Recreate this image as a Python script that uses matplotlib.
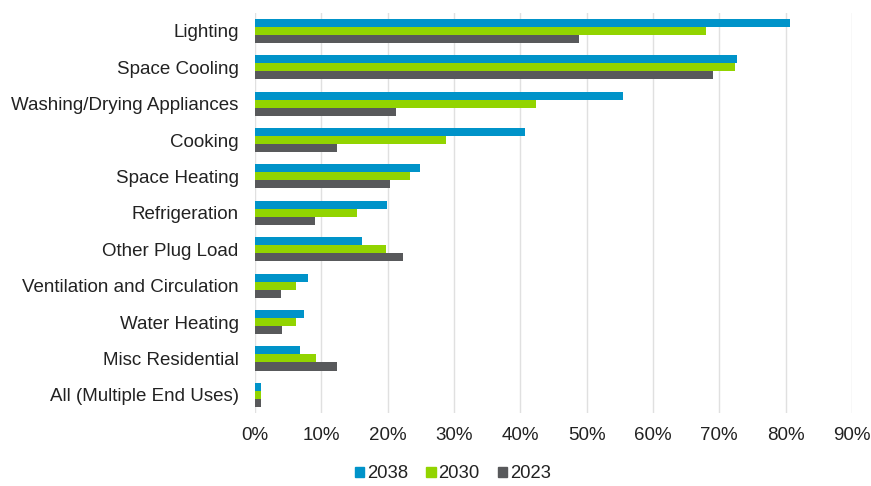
import numpy as np
import matplotlib.pyplot as plt
from matplotlib.ticker import PercentFormatter
from matplotlib.patches import Patch

plt.rcParams['font.family'] = ['Liberation Sans', 'DejaVu Sans']

categories = ['Lighting', 'Space Cooling', 'Washing/Drying Appliances', 'Cooking',
              'Space Heating', 'Refrigeration', 'Other Plug Load',
              'Ventilation and Circulation', 'Water Heating', 'Misc Residential',
              'All (Multiple End Uses)']
v2038 = [80.6, 72.7, 55.5, 40.7, 24.9, 19.9, 16.1, 7.9, 7.3, 6.7, 0.8]
v2030 = [68.0, 72.4, 42.3, 28.8, 23.4, 15.3, 19.7, 6.2, 6.2, 9.2, 0.8]
v2023 = [48.8, 69.1, 21.2, 12.3, 20.4, 9.0, 22.3, 3.9, 4.1, 12.4, 0.8]
years = ['2038', '2030', '2023']
colors = ['#0093c9', '#92d400', '#58595b']

fig = plt.figure(figsize=(8.71, 4.86), dpi=100)
ax = fig.add_axes([0.293, 0.150, 0.685, 0.824])

y = np.arange(len(categories))
h = 0.22
for i, (vals, c) in enumerate(zip([v2038, v2030, v2023], colors)):
    ax.barh(y + (i - 1) * h, vals, height=h, color=c, zorder=3)

ax.set_ylim(len(categories) - 0.5, -0.5)
ax.set_xlim(0, 90)
ax.set_xticks(np.arange(0, 91, 10))
ax.xaxis.set_major_formatter(PercentFormatter(decimals=0))
ax.set_yticks(y)
ax.set_yticklabels(categories)
ax.grid(axis='x', color='#e0e0e0', linewidth=1, zorder=0)
for s in ax.spines.values():
    s.set_visible(False)
ax.tick_params(length=0, labelsize=13.5, colors='#222222')
ax.tick_params(axis='x', pad=10)
ax.tick_params(axis='y', pad=12)

handles = [Patch(color=c, label=l) for c, l in zip(colors, years)]
fig.legend(handles=handles, loc='center', bbox_to_anchor=(0.52, 0.025), ncol=3,
           frameon=False, fontsize=13.3, handlelength=0.5, handleheight=0.5,
           handletextpad=0.15, columnspacing=1.0, labelcolor='#222222')

fig.savefig('out.png')
